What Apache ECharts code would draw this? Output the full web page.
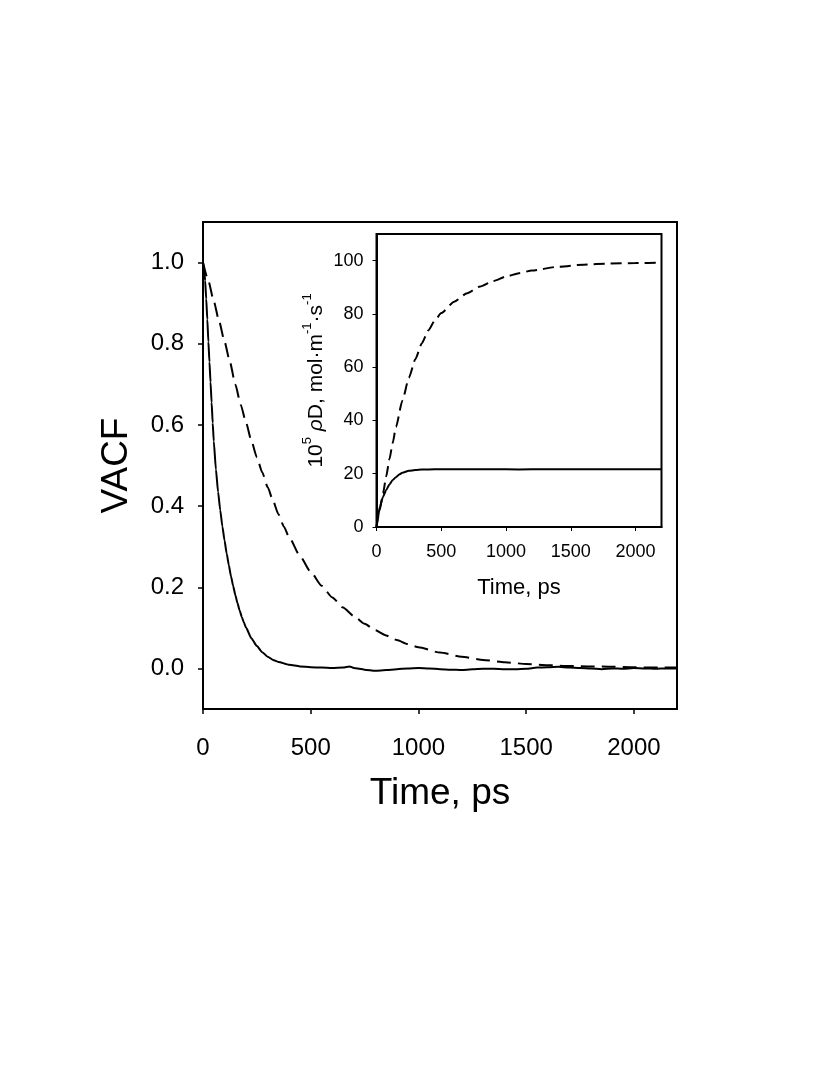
<!DOCTYPE html>
<html>
<head>
<meta charset="utf-8">
<script src="https://cdn.jsdelivr.net/npm/echarts@6/dist/echarts.min.js"></script>
<style>html,body{margin:0;padding:0;background:#fff}#c{width:817px;height:1090px}</style>
</head>
<body>
<div id="c"></div>
<script>
// ---- Main plot: VACF vs time ----
const mainXTicks = [0, 500, 1000, 1500, 2000];
const mainYTicks = [0.0, 0.2, 0.4, 0.6, 0.8, 1.0];

const tSolid = [0,5,10,15,20,25,30,35,40,45,50,60,70,80,90,100,110,120,130,140,150,160,170,180,190,200,225,250,275,300,325,350,400,450,500,550,600,650,680,700,750,800,850,900,950,1000,1050,1100,1150,1200,1250,1300,1350,1400,1450,1500,1550,1600,1650,1700,1750,1800,1850,1900,1950,2000,2050,2100,2150,2200];
const vSolid = [1.0,0.985,0.955,0.91,0.86,0.805,0.755,0.705,0.655,0.605,0.56,0.49,0.435,0.39,0.35,0.315,0.283,0.254,0.227,0.203,0.181,0.161,0.143,0.127,0.113,0.10,0.074,0.055,0.04,0.029,0.021,0.016,0.009,0.005,0.003,0.002,0.001,0.002,0.005,0.001,-0.003,-0.006,-0.004,-0.002,0.000,0.001,0.000,-0.002,-0.003,-0.004,-0.002,-0.001,-0.001,-0.002,-0.002,-0.001,0.002,0.003,0.004,0.002,0.001,0.000,-0.002,0.000,-0.001,0.001,0.000,-0.001,0.000,0.000];

const tDashed = [0,25,50,75,100,125,150,175,200,225,250,275,300,325,350,375,400,450,500,550,600,650,700,750,800,850,900,950,1000,1100,1200,1300,1400,1500,1600,1700,1800,1900,2000,2100,2200];
const vDashed = [1.0,0.955,0.905,0.855,0.805,0.755,0.70,0.65,0.605,0.56,0.52,0.483,0.447,0.413,0.38,0.35,0.323,0.277,0.238,0.204,0.175,0.15,0.129,0.11,0.094,0.081,0.07,0.06,0.052,0.039,0.029,0.021,0.015,0.011,0.008,0.006,0.005,0.004,0.003,0.002,0.002];

// ---- Inset: 10^5 rho D vs time ----
const insetXTicks = [0, 500, 1000, 1500, 2000];
const insetYTicks = [0, 20, 40, 60, 80, 100];

const tInsetSolid = [0,10,25,50,75,100,125,150,175,200,250,300,350,400,500,700,900,1100,1300,1500,1700,1900,2100,2200];
const vInsetSolid = [0,3.3,7.4,11.3,13.9,16.0,17.6,18.7,19.7,20.4,21.1,21.4,21.55,21.6,21.7,21.7,21.7,21.6,21.7,21.7,21.7,21.7,21.7,21.7];

const tInsetDashed = [0,25,50,75,100,125,150,200,250,300,350,400,450,500,600,700,800,900,1000,1100,1200,1400,1600,1800,2000,2200];
const vInsetDashed = [0,6.3,12.5,19,25.5,31.5,37.5,47.5,56,63,69,73.8,77.5,80.3,84.6,87.8,90.3,92.3,94.0,95.3,96.3,97.7,98.5,98.9,99.1,99.2];

const zip = (a, b) => a.map((x, i) => [x, b[i]]);
const FONT = 'Liberation Sans, Arial, Helvetica, sans-serif';

const chart = echarts.init(document.getElementById('c'), null, {renderer: 'canvas'});
chart.setOption({
  backgroundColor: '#fff',
  animation: false,
  grid: [
    {left: 203, top: 222, width: 474, height: 487, show: true, borderColor: '#000', borderWidth: 2, backgroundColor: 'transparent'},
    {left: 376.5, top: 234, width: 285, height: 293, show: true, borderColor: '#000', borderWidth: 2, backgroundColor: '#fff', z: 5}
  ],
  xAxis: [
    {
      type: 'value', gridIndex: 0, min: 0, max: 2200,
      name: 'Time, ps', nameLocation: 'middle', nameGap: 66,
      nameTextStyle: {fontFamily: FONT, fontSize: 37, color: '#000'},
      axisLine: {show: true, onZero: false, lineStyle: {color: '#000', width: 2}},
      axisTick: {show: true, inside: false, length: 5, customValues: mainXTicks, lineStyle: {color: '#000', width: 1.5}},
      axisLabel: {customValues: mainXTicks, margin: 27, fontFamily: FONT, fontSize: 24, color: '#000',
        formatter: v => String(v)},
      splitLine: {show: false}
    },
    {
      type: 'value', gridIndex: 1, min: 0, max: 2200,
      name: 'Time, ps', nameLocation: 'middle', nameGap: 50,
      nameTextStyle: {fontFamily: FONT, fontSize: 22, color: '#000'},
      axisLine: {show: true, onZero: false, lineStyle: {color: '#000', width: 2}},
      axisTick: {show: true, inside: false, length: 4, customValues: insetXTicks, lineStyle: {color: '#000', width: 1}},
      axisLabel: {customValues: insetXTicks, margin: 16, fontFamily: FONT, fontSize: 18, color: '#000',
        formatter: v => String(v)},
      splitLine: {show: false}, z: 6
    }
  ],
  yAxis: [
    {
      type: 'value', gridIndex: 0, min: -0.1, max: 1.1,
      name: 'VACF', nameLocation: 'middle', nameGap: 68, nameRotate: 90,
      nameTextStyle: {fontFamily: FONT, fontSize: 37, color: '#000'},
      axisLine: {show: true, onZero: false, lineStyle: {color: '#000', width: 2}},
      axisTick: {show: true, inside: false, length: 5, customValues: mainYTicks, lineStyle: {color: '#000', width: 1.5}},
      axisLabel: {customValues: mainYTicks, margin: 19, fontFamily: FONT, fontSize: 24, color: '#000',
        formatter: v => v.toFixed(1)},
      splitLine: {show: false}
    },
    {
      type: 'value', gridIndex: 1, min: 0, max: 110,
      name: '{a|10}{sup|5}{a| }{i|ρ}{a|D, mol·m}{sup|-1}{a|·s}{sup|-1}',
      nameLocation: 'middle', nameGap: 50, nameRotate: 90,
      nameTextStyle: {
        fontFamily: FONT, fontSize: 21, color: '#000',
        rich: {
          a: {fontFamily: FONT, fontSize: 21, color: '#000', lineHeight: 26, verticalAlign: 'bottom'},
          i: {fontFamily: FONT, fontSize: 21, color: '#000', fontStyle: 'italic', lineHeight: 26, verticalAlign: 'bottom'},
          sup: {fontFamily: FONT, fontSize: 13, color: '#000', lineHeight: 26, verticalAlign: 'top'}
        }
      },
      axisLine: {show: true, onZero: false, lineStyle: {color: '#000', width: 2}},
      axisTick: {show: true, inside: false, length: 4, customValues: insetYTicks, lineStyle: {color: '#000', width: 1}},
      axisLabel: {customValues: insetYTicks, margin: 13, fontFamily: FONT, fontSize: 18, color: '#000'},
      splitLine: {show: false}, z: 6
    }
  ],
  series: [
    {type: 'line', xAxisIndex: 0, yAxisIndex: 0, data: zip(tSolid, vSolid), showSymbol: false, smooth: 0.2, smoothMonotone: 'x',
     lineStyle: {color: '#000', width: 2}, z: 2},
    {type: 'line', xAxisIndex: 0, yAxisIndex: 0, data: zip(tDashed, vDashed), showSymbol: false, smooth: 0.2, smoothMonotone: 'x',
     lineStyle: {color: '#000', width: 2, type: [14, 7]}, z: 2},
    {type: 'line', xAxisIndex: 1, yAxisIndex: 1, data: zip(tInsetSolid, vInsetSolid), showSymbol: false, smooth: 0.2, smoothMonotone: 'x',
     lineStyle: {color: '#000', width: 2}, z: 7},
    {type: 'line', xAxisIndex: 1, yAxisIndex: 1, data: zip(tInsetDashed, vInsetDashed), showSymbol: false, smooth: 0.2, smoothMonotone: 'x',
     lineStyle: {color: '#000', width: 2, type: [11, 6]}, z: 7}
  ]
});
</script>
</body>
</html>
